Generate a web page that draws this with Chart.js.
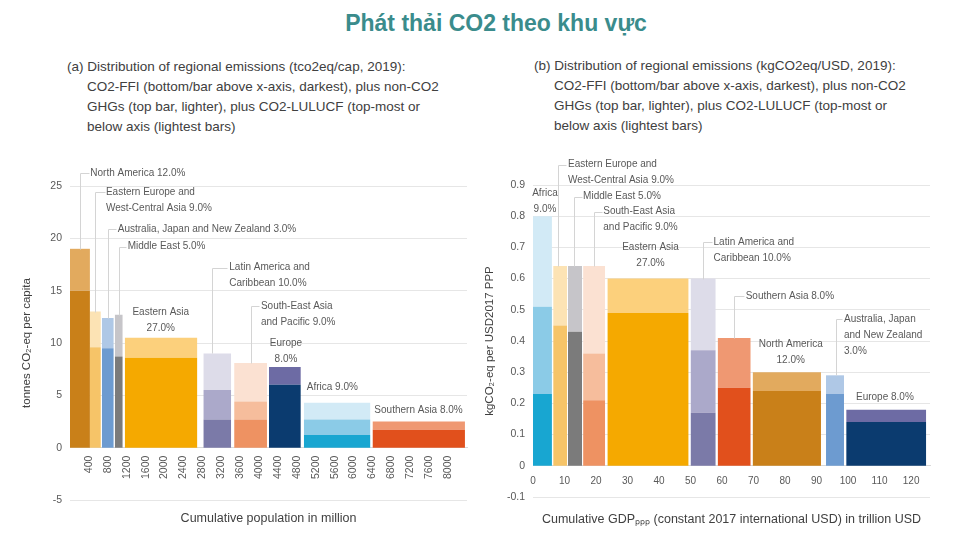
<!DOCTYPE html>
<html>
<head>
<meta charset="utf-8">
<script src="https://cdn.jsdelivr.net/npm/chart.js@4.4.1/dist/chart.umd.min.js"></script>
<style>
body { margin: 0; width: 960px; height: 540px; background: #fff; position: relative; overflow: hidden; font-family: "Liberation Sans", Arial, sans-serif; }
#title { position: absolute; left: 16px; top: 10px; width: 960px; text-align: center; font-weight: bold; font-size: 23px; color: #3a8c8c; }
.sub { position: absolute; font-size: 13.5px; color: #404040; line-height: 20px; white-space: nowrap; }
.sub div { padding-left: 20px; }
.sub div:first-child { padding-left: 0; }
.box { position: absolute; top: 140px; width: 480px; height: 400px; }
</style>
</head>
<body>
<div id="title">Phát thải CO2 theo khu vực</div>
<div class="sub" style="left:67px;top:57px">
  <div>(a) Distribution of regional emissions (tco2eq/cap, 2019):</div>
  <div>CO2-FFI (bottom/bar above x-axis, darkest), plus non-CO2</div>
  <div>GHGs (top bar, lighter), plus CO2-LULUCF (top-most or</div>
  <div>below axis (lightest bars)</div>
</div>
<div class="sub" style="left:534px;top:56px">
  <div>(b) Distribution of regional emissions (kgCO2eq/USD, 2019):</div>
  <div>CO2-FFI (bottom/bar above x-axis, darkest), plus non-CO2</div>
  <div>GHGs (top bar, lighter), plus CO2-LULUCF (top-most or</div>
  <div>below axis (lightest bars)</div>
</div>
<div class="box" style="left:0"><canvas id="popChart" width="480" height="400"></canvas></div>
<div class="box" style="left:480px"><canvas id="gdpChart" width="480" height="400"></canvas></div>

<script>
// panel (a): per capita, bar width = population (million)
var popRegions = ['North America', 'Eastern Europe and West-Central Asia', 'Australia, Japan and New Zealand', 'Middle East',
    'Eastern Asia', 'Latin America and Caribbean', 'South-East Asia and Pacific', 'Europe', 'Africa', 'Southern Asia'];
var popStart = [0, 421, 674, 947, 1158, 2821, 3473, 4210, 4947, 6400];
var popEnd = [421, 653, 926, 1116, 2695, 3410, 4168, 4884, 6357, 8357];
var capFFI = [15.0, 9.6, 9.5, 8.7, 8.6, 2.7, 2.7, 6.0, 1.2, 1.7];
var capNonCO2 = [4.0, 3.4, 2.9, 4.0, 1.9, 2.8, 1.7, 1.7, 1.5, 0.8];
var capLULUCF = [0, 0, 0, 0, 0, 3.5, 3.7, 0, 1.6, 0];
var popTicks = [400, 800, 1200, 1600, 2000, 2400, 2800, 3200, 3600, 4000, 4400, 4800, 5200, 5600, 6000, 6400, 6800, 7200, 7600, 8000];
var capTicks = [-5, 0, 5, 10, 15, 20, 25];

// panel (b): intensity, bar width = GDP (trillion USD ppp)
var gdpRegions = ['Africa', 'Eastern Europe and West-Central Asia', 'Middle East', 'South-East Asia and Pacific', 'Eastern Asia',
    'Latin America and Caribbean', 'Southern Asia', 'North America', 'Australia, Japan and New Zealand', 'Europe'];
var gdpStart = [0, 6.4, 11.1, 15.9, 23.6, 50.0, 58.6, 69.7, 93.0, 99.4];
var gdpEnd = [6.0, 10.8, 15.6, 22.9, 49.4, 58.0, 69.1, 91.4, 98.7, 124.8];
var intFFI = [0.23, 0.45, 0.43, 0.21, 0.49, 0.17, 0.25, 0.24, 0.23, 0.14];
var intNonCO2 = [0.28, 0.19, 0.21, 0.15, 0.11, 0.20, 0.16, 0.06, 0.06, 0.04];
var intLULUCF = [0.29, 0, 0, 0.28, 0, 0.23, 0, 0, 0, 0];
var gdpTicks = [0, 10, 20, 30, 40, 50, 60, 70, 80, 90, 100, 110, 120];
var intTicks = [-0.1, 0, 0.1, 0.2, 0.3, 0.4, 0.5, 0.6, 0.7, 0.8, 0.9];

// shares of 2019 emissions
var shares = {
    'North America': '12.0%', 'Eastern Europe and West-Central Asia': '9.0%', 'Australia, Japan and New Zealand': '3.0%',
    'Middle East': '5.0%', 'Eastern Asia': '27.0%', 'Latin America and Caribbean': '10.0%', 'South-East Asia and Pacific': '9.0%',
    'Europe': '8.0%', 'Africa': '9.0%', 'Southern Asia': '8.0%'
};

// darkest (CO2-FFI), lighter (non-CO2), lightest (LULUCF)
var regionColors = {
    'North America': ['#c98019', '#e2aa5e', '#f2d5ab'],
    'Eastern Europe and West-Central Asia': ['#f6c468', '#fce3b4', '#fdf0d8'],
    'Australia, Japan and New Zealand': ['#6d9bd0', '#afc8e6', '#d8e5f3'],
    'Middle East': ['#7b7b7b', '#c6c5c9', '#e3e3e3'],
    'Eastern Asia': ['#f5a900', '#fcd07c', '#feebc4'],
    'Latin America and Caribbean': ['#7b7aa8', '#aba9ca', '#dddce9'],
    'South-East Asia and Pacific': ['#ee9262', '#f6bd9c', '#fbe1d2'],
    'Europe': ['#0b3b6f', '#6d6ba4', '#c9c8df'],
    'Africa': ['#18a6d1', '#8bcbe7', '#d2eaf6'],
    'Southern Asia': ['#e1501c', '#ef9872', '#f8cdb9']
};

var FONT = '"Liberation Sans", Arial, sans-serif';

function buildRects(regions, starts, ends, ffi, nonco2, lulucf) {
    var sets = [];
    for (var i = 0; i < regions.length; i++) {
        var layers = [ffi[i], nonco2[i], lulucf[i]];
        var base = 0;
        for (var k = 0; k < 3; k++) {
            if (!layers[k]) continue;
            var top = base + layers[k];
            sets.push({
                data: [{ x: starts[i], y: top }, { x: ends[i], y: top }],
                fill: { value: base },
                backgroundColor: regionColors[regions[i]][k],
                borderWidth: 0,
                pointRadius: 0
            });
            base = top;
        }
    }
    return sets;
}

// labels with leader lines, positioned in data units
var popNotes = [
    { text: ['North America ' + shares['North America']], x: 430, y: 26.2, align: 'left', leader: [[210, 19.0], [210, 26.2], [400, 26.2]] },
    { text: ['Eastern Europe and', 'West-Central Asia ' + shares['Eastern Europe and West-Central Asia']], x: 760, y: 24.4, align: 'left', leader: [[537, 13.0], [537, 24.4], [730, 24.4]] },
    { text: ['Australia, Japan and New Zealand ' + shares['Australia, Japan and New Zealand']], x: 1010, y: 20.9, align: 'left', leader: [[800, 12.4], [800, 20.9], [980, 20.9]] },
    { text: ['Middle East ' + shares['Middle East']], x: 1220, y: 19.2, align: 'left', leader: [[1030, 12.7], [1030, 19.2], [1190, 19.2]] },
    { text: ['Eastern Asia', shares['Eastern Asia']], x: 1920, y: 12.9, align: 'center' },
    { text: ['Latin America and', 'Caribbean ' + shares['Latin America and Caribbean']], x: 3370, y: 17.2, align: 'left', leader: [[3010, 9.0], [3010, 17.2], [3320, 17.2]] },
    { text: ['South-East Asia', 'and Pacific ' + shares['South-East Asia and Pacific']], x: 4040, y: 13.5, align: 'left', leader: [[3830, 8.1], [3830, 13.5], [3990, 13.5]] },
    { text: ['Europe', shares['Europe']], x: 4570, y: 10.0, align: 'center' },
    { text: ['Africa ' + shares['Africa']], x: 5010, y: 5.8, align: 'left' },
    { text: ['Southern Asia ' + shares['Southern Asia']], x: 6440, y: 3.6, align: 'left' }
];

var gdpNotes = [
    { text: ['Africa', shares['Africa']], x: 3.8, y: 0.875, align: 'center' },
    { text: ['Eastern Europe and', 'West-Central Asia ' + shares['Eastern Europe and West-Central Asia']], x: 11.1, y: 0.965, align: 'left', leader: [[8.0, 0.64], [8.0, 0.965], [10.5, 0.965]] },
    { text: ['Middle East ' + shares['Middle East']], x: 15.9, y: 0.863, align: 'left', leader: [[13.1, 0.64], [13.1, 0.863], [15.4, 0.863]] },
    { text: ['South-East Asia', 'and Pacific ' + shares['South-East Asia and Pacific']], x: 22.3, y: 0.815, align: 'left', leader: [[19.4, 0.64], [19.4, 0.815], [21.8, 0.815]] },
    { text: ['Eastern Asia', shares['Eastern Asia']], x: 37.3, y: 0.70, align: 'center' },
    { text: ['Latin America and', 'Caribbean ' + shares['Latin America and Caribbean']], x: 57.3, y: 0.716, align: 'left', leader: [[54.1, 0.60], [54.1, 0.716], [56.7, 0.716]] },
    { text: ['Southern Asia ' + shares['Southern Asia']], x: 67.5, y: 0.543, align: 'left', leader: [[63.7, 0.41], [63.7, 0.543], [66.9, 0.543]] },
    { text: ['North America', shares['North America']], x: 81.8, y: 0.39, align: 'center' },
    { text: ['Australia, Japan', 'and New Zealand', shares['Australia, Japan and New Zealand']], x: 98.7, y: 0.47, align: 'left', leader: [[96.2, 0.29], [96.2, 0.47], [98.2, 0.47]] },
    { text: ['Europe ' + shares['Europe']], x: 102.5, y: 0.22, align: 'left' }
];

var notesPlugin = {
    id: 'regionNotes',
    afterDatasetsDraw: function (chart, args, opts) {
        var ctx = chart.ctx;
        var xs = chart.scales.x, ys = chart.scales.y;
        ctx.save();
        (opts.notes || []).forEach(function (n) {
            if (n.leader) {
                ctx.strokeStyle = '#d4d4d4';
                ctx.lineWidth = 1;
                ctx.beginPath();
                n.leader.forEach(function (p, i) {
                    var px = Math.round(xs.getPixelForValue(p[0])) + 0.5;
                    var py = Math.round(ys.getPixelForValue(p[1])) + 0.5;
                    if (i === 0) ctx.moveTo(px, py); else ctx.lineTo(px, py);
                });
                ctx.stroke();
            }
            ctx.fillStyle = '#595959';
            ctx.font = '10px ' + FONT;
            ctx.textAlign = n.align;
            ctx.textBaseline = 'middle';
            var x0 = xs.getPixelForValue(n.x), y0 = ys.getPixelForValue(n.y);
            n.text.forEach(function (t, i) {
                ctx.fillText(t, x0, y0 + i * 16);
            });
        });
        ctx.restore();
    }
};

function makeChart(id, cfg) {
    return new Chart(document.getElementById(id), {
        type: 'line',
        data: { datasets: cfg.datasets },
        plugins: [notesPlugin],
        options: {
            responsive: false,
            animation: false,
            layout: { padding: cfg.padding },
            plugins: { legend: { display: false }, tooltip: { enabled: false }, regionNotes: { notes: cfg.notes } },
            scales: {
                x: {
                    type: 'linear',
                    position: { y: 0 },
                    min: cfg.xMin, max: cfg.xMax,
                    afterBuildTicks: function (s) { s.ticks = cfg.xTicks.map(function (v) { return { value: v }; }); },
                    grid: { display: false, drawTicks: false },
                    border: { display: true, color: '#d9d9d9' },
                    ticks: {
                        autoSkip: false, minRotation: cfg.rot, maxRotation: cfg.rot, padding: cfg.xTickPad,
                        color: '#595959', font: { size: cfg.xTickSize, family: FONT },
                        callback: function (v) { return String(v); }
                    },
                    title: {
                        display: true, text: cfg.xTitle, color: '#404040', padding: { top: cfg.xTitlePad, bottom: 0 },
                        font: { size: 12.5, family: FONT }
                    }
                },
                y: {
                    min: cfg.yMin, max: cfg.yMax,
                    afterBuildTicks: function (s) { s.ticks = cfg.yTicks.map(function (v) { return { value: v }; }); },
                    afterFit: function (s) { s.width = cfg.yWidth; },
                    grid: { color: '#e6e6e6', drawTicks: false },
                    border: { display: false },
                    ticks: {
                        padding: 8, color: '#595959', font: { size: 10.5, family: FONT },
                        callback: cfg.yFormat
                    },
                    title: {
                        display: true, text: cfg.yTitle, color: '#404040', padding: { top: cfg.yTitlePad, bottom: 0 },
                        font: { size: 11.5, family: FONT }
                    }
                }
            }
        }
    });
}

makeChart('popChart', {
    datasets: buildRects(popRegions, popStart, popEnd, capFFI, capNonCO2, capLULUCF),
    notes: popNotes,
    padding: { left: 16, right: 13, top: 46, bottom: 40 },
    xMin: 0, xMax: 8400, xTicks: popTicks, rot: 90, xTickPad: 8, xTickSize: 10.5,
    xTitle: 'Cumulative population in million', xTitlePad: 24,
    yMin: -5, yMax: 25, yTicks: capTicks, yWidth: 54, yTitlePad: 4,
    yTitle: 'tonnes CO₂-eq per capita',
    yFormat: function (v) { return String(v); }
});

makeChart('gdpChart', {
    datasets: buildRects(gdpRegions, gdpStart, gdpEnd, intFFI, intNonCO2, intLULUCF),
    notes: gdpNotes,
    padding: { left: 0, right: 30, top: 45, bottom: 43 },
    xMin: 0, xMax: 126, xTicks: gdpTicks, rot: 0, xTickPad: 9, xTickSize: 10,
    xTitle: 'Cumulative GDPₚₚₚ (constant 2017 international USD) in trillion USD', xTitlePad: 16,
    yMin: -0.1, yMax: 0.9, yTicks: intTicks, yWidth: 53, yTitlePad: 3,
    yTitle: 'kgCO₂-eq per USD2017 PPP',
    yFormat: function (v) { return v === 0 ? '0' : v.toFixed(1); }
});
</script>
</body>
</html>
